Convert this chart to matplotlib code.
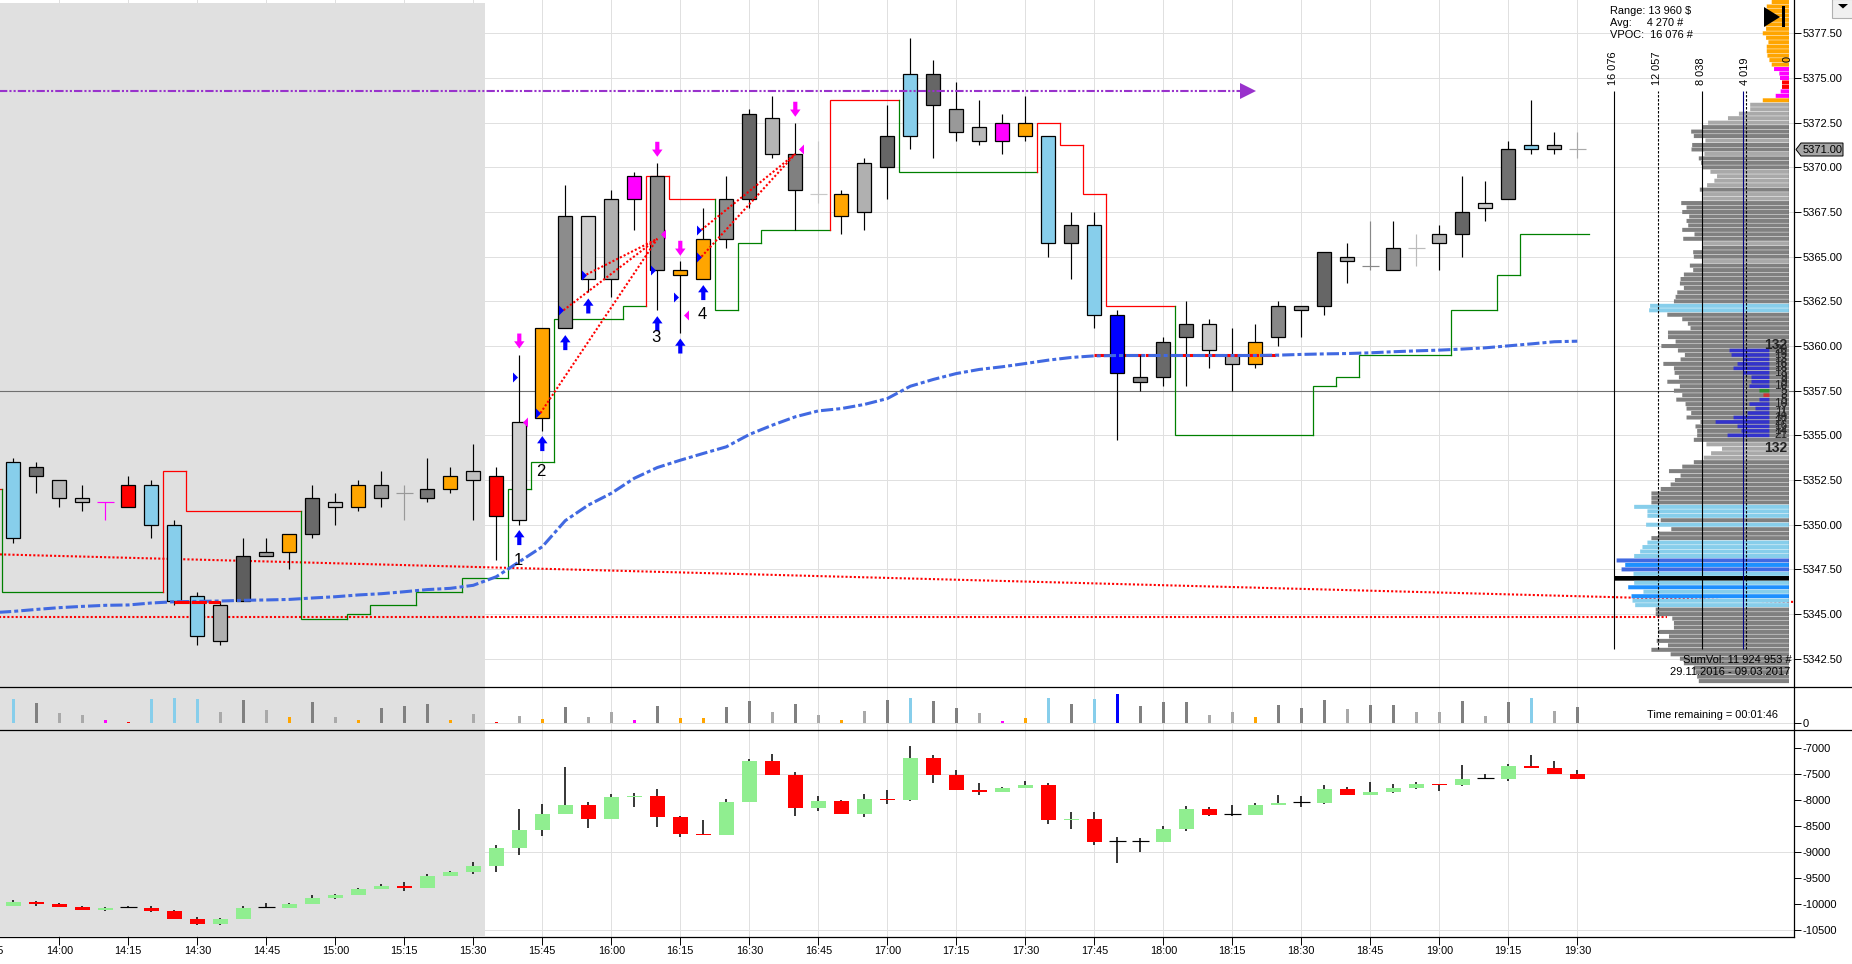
import numpy as np
import matplotlib
matplotlib.use("Agg")
import matplotlib.pyplot as plt
from matplotlib.patches import Polygon, Rectangle

plt.rcParams['font.family'] = ['Liberation Sans', 'DejaVu Sans']
plt.rcParams['axes.unicode_minus'] = False

# 5 minute bars, 13:50 to 19:30, minutes counted from 14:00
minutes = np.arange(69) * 5 - 10
tick_minutes = np.arange(-15, 331, 15)
tick_labels = ["13:45", "14:00", "14:15", "14:30", "14:45", "15:00", "15:15", "15:30", "15:45",
               "16:00", "16:15", "16:30", "16:45", "17:00", "17:15", "17:30", "17:45", "18:00",
               "18:15", "18:30", "18:45", "19:00", "19:15", "19:30"]

body_top = [5353.5, 5353.25, 5352.5, 5351.5, 5351.25, 5352.25, 5352.25, 5350.0, 5346.0, 5345.5, 5348.25, 5348.5,
            5349.5, 5351.5, 5351.25, 5352.25, 5352.25, 5351.75, 5352.0, 5352.75, 5353.0, 5352.75, 5355.75, 5361.0,
            5367.25, 5367.25, 5368.25, 5369.5, 5369.5, 5364.25, 5366.0, 5368.25, 5373.0, 5372.75, 5370.75, 5368.5,
            5368.5, 5370.25, 5371.75, 5375.25, 5375.25, 5373.25, 5372.25, 5372.5, 5372.5, 5371.75, 5366.75, 5366.75,
            5361.75, 5358.25, 5360.25, 5361.25, 5361.25, 5359.5, 5360.25, 5362.25, 5362.25, 5365.25, 5365.0, 5364.5,
            5365.5, 5365.5, 5366.25, 5367.5, 5368.0, 5371.0, 5371.25, 5371.25, 5371.0]
body_bot = [5349.25, 5352.75, 5351.5, 5351.25, 5351.25, 5351.0, 5350.0, 5345.75, 5343.75, 5343.5, 5345.75, 5348.25,
            5348.5, 5349.5, 5351.0, 5351.0, 5351.5, 5351.75, 5351.5, 5352.0, 5352.5, 5350.5, 5350.25, 5356.0,
            5361.0, 5363.75, 5363.75, 5368.25, 5364.25, 5364.0, 5363.75, 5366.0, 5368.25, 5370.75, 5368.75, 5368.5,
            5367.25, 5367.5, 5370.0, 5371.75, 5373.5, 5372.0, 5371.5, 5371.5, 5371.75, 5365.75, 5365.75, 5361.75,
            5358.5, 5358.0, 5358.25, 5360.5, 5359.75, 5359.0, 5359.0, 5360.5, 5362.0, 5362.25, 5364.75, 5364.5,
            5364.25, 5365.5, 5365.75, 5366.25, 5367.75, 5368.25, 5371.0, 5371.0, 5371.0]
high = [5353.75, 5353.5, 5352.5, 5352.25, 5351.25, 5352.75, 5352.5, 5350.25, 5346.25, 5345.75, 5349.25, 5349.25,
        5349.5, 5352.25, 5351.75, 5352.5, 5353.0, 5352.25, 5353.75, 5353.25, 5354.5, 5353.25, 5359.5, 5361.0,
        5369.0, 5367.25, 5368.75, 5369.75, 5370.25, 5364.75, 5367.75, 5369.5, 5373.25, 5374.0, 5372.5, 5371.5,
        5368.75, 5370.5, 5373.5, 5377.25, 5376.0, 5374.75, 5373.75, 5373.0, 5374.0, 5371.75, 5367.5, 5367.5,
        5362.0, 5359.5, 5360.5, 5362.5, 5361.5, 5361.0, 5361.25, 5362.5, 5362.25, 5365.25, 5365.75, 5367.0,
        5367.0, 5366.25, 5366.75, 5369.5, 5369.25, 5371.5, 5373.75, 5372.0, 5372.0]
low = [5349.0, 5351.75, 5351.0, 5350.75, 5350.25, 5351.0, 5349.25, 5345.5, 5343.25, 5343.25, 5345.75, 5348.25,
       5347.5, 5349.25, 5350.0, 5350.75, 5351.0, 5350.25, 5351.25, 5351.75, 5350.25, 5348.0, 5350.0, 5355.25,
       5361.0, 5363.0, 5362.75, 5366.5, 5362.0, 5360.75, 5363.75, 5365.5, 5367.75, 5370.5, 5366.5, 5368.0,
       5366.25, 5366.5, 5368.25, 5371.0, 5370.5, 5371.5, 5371.25, 5370.75, 5371.5, 5365.0, 5363.75, 5361.0,
       5354.75, 5357.5, 5357.75, 5357.75, 5358.75, 5357.5, 5358.75, 5360.0, 5360.5, 5361.75, 5363.5, 5364.25,
       5364.25, 5364.5, 5364.25, 5365.0, 5367.0, 5368.25, 5370.75, 5370.75, 5370.5]

vwap_minutes = [-15] + list(minutes)
vwap = [5345.07, 5345.15, 5345.26, 5345.36, 5345.43, 5345.49, 5345.51, 5345.62, 5345.69, 5345.71, 5345.73, 5345.77,
        5345.79, 5345.82, 5345.9, 5345.97, 5346.07, 5346.14, 5346.25, 5346.37, 5346.44, 5346.61, 5347.09, 5347.93,
        5348.77, 5350.23, 5351.1, 5351.76, 5352.6, 5353.2, 5353.61, 5353.99, 5354.36, 5355.05, 5355.57, 5356.04,
        5356.37, 5356.5, 5356.73, 5357.06, 5357.75, 5358.13, 5358.46, 5358.69, 5358.84, 5359.02, 5359.21, 5359.36,
        5359.45, 5359.47, 5359.47, 5359.47, 5359.47, 5359.47, 5359.47, 5359.47, 5359.49, 5359.53, 5359.56, 5359.58,
        5359.62, 5359.68, 5359.73, 5359.77, 5359.83, 5359.9, 5360.01, 5360.12, 5360.24, 5360.27]

# trailing stop: level, number of bars it holds, colour
stop_start = 5352.0
stop_levels = [5346.25, 5353.0, 5350.75, 5344.75, 5345.0, 5345.5, 5346.25, 5347.0, 5352.0, 5353.5, 5361.5, 5362.25,
               5369.5, 5368.25, 5362.0, 5365.75, 5366.5, 5373.75, 5369.75, 5372.5, 5371.25, 5368.5, 5362.25, 5355.0,
               5357.75, 5358.25, 5359.5, 5362.0, 5364.0, 5366.25]
stop_bars = [7, 1, 5, 2, 1, 2, 2, 2, 1, 1, 3, 1, 1, 2, 1, 1, 3, 3, 6, 1, 1, 1, 3, 6, 1, 1, 4, 2, 1, 3]
stop_sides = "grrgggggggggrrgggrgrrrrggggggg"

# cumulative delta candles
d_open = [-10032, -9955, -9994, -10051, -10109, -10058, -10070, -10128, -10282, -10378, -10282, -10058, -10070,
          -9994, -9878, -9821, -9705, -9647, -9686, -9455, -9378, -9263, -8917, -8571, -8263, -8090, -8359, -7936,
          -7917, -8321, -8647, -8667, -8032, -7244, -7513, -8147, -8013, -8263, -7974, -7994, -7186, -7513, -7801,
          -7840, -7763, -7705, -8378, -8359, -8788, -8788, -8801, -8551, -8167, -8269, -8282, -8090, -8038, -8051,
          -7782, -7897, -7840, -7763, -7686, -7705, -7577, -7590, -7340, -7378, -7494]
d_close = [-9955, -9994, -10051, -10109, -10070, -10058, -10128, -10282, -10378, -10282, -10070, -10058, -9994,
           -9878, -9821, -9705, -9647, -9686, -9455, -9378, -9263, -8917, -8571, -8263, -8090, -8359, -7936, -7917,
           -8321, -8647, -8667, -8032, -7244, -7513, -8147, -8013, -8263, -7974, -7994, -7186, -7513, -7801, -7840,
           -7763, -7705, -8378, -8359, -8801, -8788, -8788, -8551, -8167, -8282, -8269, -8090, -8051, -8038, -7782,
           -7897, -7840, -7763, -7686, -7705, -7590, -7577, -7340, -7378, -7494, -7590]
d_high = [-9917, -9929, -9974, -10032, -10051, -10038, -10032, -10109, -10244, -10263, -10032, -9974, -9974, -9821,
          -9801, -9686, -9609, -9570, -9417, -9359, -9186, -8859, -8167, -8070, -7359, -8032, -7878, -7859, -7782,
          -8301, -8378, -7974, -7205, -7109, -7455, -7917, -7994, -7878, -7801, -6955, -7128, -7417, -7667, -7744,
          -7628, -7667, -8224, -8224, -8705, -8724, -8494, -8109, -8128, -8090, -8051, -7897, -7917, -7705, -7744,
          -7647, -7686, -7647, -7686, -7321, -7494, -7301, -7128, -7244, -7417]
d_low = [-10032, -10032, -10051, -10109, -10128, -10070, -10147, -10282, -10397, -10397, -10282, -10070, -10070,
         -9994, -9897, -9821, -9705, -9744, -9686, -9455, -9417, -9378, -9051, -8686, -8263, -8532, -8359, -8128,
         -8513, -8705, -8667, -8667, -8032, -7513, -8301, -8205, -8263, -8321, -8070, -8013, -7667, -7801, -7897,
         -7840, -7763, -8455, -8551, -8859, -9205, -8994, -8801, -8590, -8301, -8301, -8282, -8090, -8128, -8070,
         -7897, -7897, -7859, -7782, -7821, -7724, -7577, -7628, -7378, -7494, -7590]

volume = [72, 60, 30, 24, 9, 3, 72, 75, 72, 33, 69, 39, 18, 63, 18, 9, 45, 51, 57, 9, 27, 3, 21, 12, 48, 18, 33,
          9, 51, 15, 15, 48, 66, 33, 57, 24, 9, 36, 69, 75, 66, 45, 30, 6, 15, 75, 57, 72, 87, 51, 63, 63, 24, 33,
          18, 54, 45, 69, 42, 54, 54, 33, 33, 66, 21, 63, 75, 36, 48]

# volume profile rows, from 5379.25 down in 0.25 steps
profile_top = 5379.25
profile_vol = [1614, 2071, 2071, 2314, 2314, 2223, 2132, 2436, 2132, 1918, 2071, 2071, 2010, 1827, 1614, 1401, 914,
               853, 670, 670, 792, 1248, 2436, 3593, 3593, 4628, 5633, 7460, 8008, 9013, 8770, 7704, 8922, 8983,
               7795, 8313, 8100, 8008, 7247, 6638, 6882, 7552, 8222, 7917, 7917, 9927, 9440, 9835, 9196, 9440, 9287,
               9835, 8709, 9744, 7917, 7947, 8831, 8770, 7917, 9135, 8831, 9683, 9988, 10049, 9683, 10292, 10444,
               10597, 12789, 12880, 11206, 9835, 9318, 9074, 11145, 11145, 10444, 11754, 10231, 9592, 9988, 11571,
               10597, 10536, 10140, 11206, 10049, 10597, 9835, 10383, 9531, 9440, 9013, 9440, 8161, 8617, 8465, 8465,
               8770, 7613, 6181, 7186, 7856, 8770, 9835, 11053, 9988, 10505, 10901, 11815, 12667, 12667, 12667, 14251,
               13033, 13033, 11815, 13154, 10840, 12058, 12667, 13033, 13489, 13703, 14251, 15864, 15073, 15408, 14312,
               16076, 14251, 14799, 13398, 14494, 14403, 14159, 12271, 12271, 10749, 10597, 10597, 12058, 11053, 12180,
               11145, 12667, 10901, 10049, 9683, 8770, 8617, 8465, 8313]
profile_kinds = ("OOOOOOOOOOOOOOOMMMRRMMOLLLLLDDDLDDLDDDLLLLDLLDDDDDDDDDLDDDLDDDDDDDDDSS"
                 "DDDDDDDDDDDDDDDDDDDDDDDDDDDDDLLLLDDDDDDDDDDSSSDSDDDSSSSYAYSKSASASSDDDDDDDDDDDDDDDDD")
avg_vol = 4270

# selection profile inside the big one
inner_prices = [5359.75, 5359.5, 5359.25, 5359.0, 5358.75, 5358.5, 5358.25, 5358.0, 5357.75, 5357.5, 5357.25, 5357.0,
                5356.75, 5356.5, 5356.25, 5356.0, 5355.75, 5355.5, 5355.25, 5355.0]
inner_counts = [20, 19, 13, 16, 18, 13, 9, 9, 10, 5, 3, 5, 10, 7, 11, 18, 27, 16, 14, 21]

# signals
buy_minutes = [100, 105, 110, 115, 130, 135, 140]
buy_tips = [5349.7, 5354.96, 5360.61, 5362.66, 5361.67, 5360.42, 5363.41]
sell_minutes = [100, 130, 135, 160]
sell_tips = [5359.86, 5370.59, 5365.05, 5372.83]
blue_tri_minutes = [100, 105, 110, 115, 130, 135, 140, 140]
blue_tri_prices = [5358.25, 5356.25, 5362.0, 5364.0, 5364.25, 5362.75, 5366.5, 5365.0]
pink_tri_minutes = [100, 130, 135, 160]
pink_tri_prices = [5355.75, 5366.25, 5361.75, 5371.0]
wave_minutes = [100, 105, 130, 140]
wave_prices = [5348.0, 5353.0, 5360.5, 5361.75]
wave_labels = ["1", "2", "3", "4"]
link_start = [(105, 5356.25), (110, 5362.0), (115, 5364.0), (140, 5365.0), (140, 5366.5)]
link_end = [(130, 5366.0), (130, 5366.0), (130, 5366.0), (160, 5370.75), (160, 5370.75)]

price_ticks = np.arange(5342.5, 5378, 2.5)
delta_ticks = np.arange(-10500, -6999, 500)
delta_grid = [-7500, -9000, -10500]

# styles
kind_colors = {"O": "#ffa500", "M": "#ff00ff", "R": "#ff0000", "S": "#87ceeb", "D": "#808080", "L": "#a9a9a9",
               "B": "#0000ff", "A": "#1e90ff", "Y": "#4169e1", "K": "#000000"}
candle_colors = ["#87ceeb", "#707070", "#b8b8b8", "#c0c0c0", "#ff00ff", "#ff0000", "#87ceeb", "#87ceeb", "#87ceeb",
                 "#b0b0b0", "#5e5e5e", "#a0a0a0", "#ffa500", "#6a6a6a", "#d0d0d0", "#ffa500", "#9a9a9a", "#999999",
                 "#777777", "#ffa500", "#c0c0c0", "#ff0000", "#d0d0d0", "#ffa500", "#8c8c8c", "#d0d0d0", "#b0b0b0",
                 "#ff00ff", "#8c8c8c", "#ffa500", "#ffa500", "#8c8c8c", "#666666", "#b4b4b4", "#808080", "#c8c8c8",
                 "#ffa500", "#b0b0b0", "#666666", "#87ceeb", "#666666", "#999999", "#b8b8b8", "#ff00ff", "#ffa500",
                 "#87ceeb", "#808080", "#87ceeb", "#0000ff", "#888888", "#6a6a6a", "#707070", "#c8c8c8", "#aaaaaa",
                 "#ffa500", "#888888", "#999999", "#666666", "#aaaaaa", "#888888", "#888888", "#bbbbbb", "#b0b0b0",
                 "#666666", "#cccccc", "#707070", "#87ceeb", "#aaaaaa", "#aaaaaa"]
vol_kinds = "SDLLMRSSSLDLODLODDDOLRLODLLMDOODDLDLOLDSDDLMOSDSBDDDLLODDDLDDLLDLDSLD"
GRID = "#e0e0e0"
VWAP_DASH = (0, (4, 1, 1.3, 1))
RED_DASH = (0, (5, 0.6))

W, H = 1852, 964
X_LEFT, X_RIGHT = -20, 1794
PX_PER_MIN = 4.6
X_ZERO = 59.3
x_lim = ((X_LEFT - X_ZERO) / PX_PER_MIN, (X_RIGHT - X_ZERO) / PX_PER_MIN)
shade_end = (484.8 - X_ZERO) / PX_PER_MIN


def axes_px(fig, x0, y0, x1, y1):
    return fig.add_axes([x0 / W, 1 - y1 / H, (x1 - x0) / W, (y1 - y0) / H])


def price_at(y):
    return 5377.5 - (y - 33.3) / 17.87


fig = plt.figure(figsize=(W / 100, H / 100), dpi=100, facecolor="white")
ax = axes_px(fig, X_LEFT, 0, X_RIGHT, 687)
ax_vol = axes_px(fig, X_LEFT, 687, X_RIGHT, 730)
ax_delta = axes_px(fig, X_LEFT, 730, X_RIGHT, 937)

for a in (ax, ax_vol, ax_delta):
    a.set_xlim(x_lim)
    a.set_axisbelow(True)
    a.set_xticks(tick_minutes)
    a.grid(axis="x", color=GRID, lw=0.72)
    a.yaxis.tick_right()
    a.tick_params(axis="y", length=5, width=0.7, pad=1, labelsize=8)
    for s in a.spines.values():
        s.set_visible(False)

# main panel
ax.set_ylim(price_at(687), price_at(0))
ax.set_yticks(price_ticks)
ax.set_yticklabels(["%.2f" % p for p in price_ticks])
ax.grid(axis="y", color=GRID, lw=0.72)
ax.tick_params(axis="x", length=0, labelbottom=False)
ax.axvspan(x_lim[0], shade_end, ymin=0, ymax=1 - 3 / 687, color="#e0e0e0", lw=0, zorder=0.6)

ax.axhline(price_at(391), color="#707070", lw=0.8, zorder=1)

# sloped and flat support lines
ax.plot([-12.9, 377.1], [5348.34, 5345.68], color="red", lw=1.5, ls=(0, (1, 1)), zorder=1.2)
ax.plot([x_lim[0], 349.5], [5344.85, 5344.85], color="red", lw=1.5, ls=(0, (1, 1)), zorder=1.2)

# trailing stop
pos = minutes[0] - 2.5
prev = stop_start
ax.plot([pos - 2, pos], [prev, prev], color="red", lw=0.9, zorder=1.5)
for level, n, side in zip(stop_levels, stop_bars, stop_sides):
    c = "#ff0000" if side == "r" else "#008000"
    ax.plot([pos, pos, pos + n * 5], [prev, level, level], color=c, lw=0.9, zorder=1.5,
            solid_joinstyle="miter")
    pos += n * 5
    prev = level

# red part under the candles
ax.plot([225, 250], [5359.47, 5359.47], color="red", lw=2.2, ls=RED_DASH, zorder=1.8)

# candles
top = np.array(body_top)
bot = np.array(body_bot)
is_doji = top == bot
wick_colors = [c if d else "black" for c, d in zip(candle_colors, is_doji)]
ax.vlines(minutes, low, high, colors=wick_colors, lw=0.85, zorder=2)
solid = ~is_doji
ax.bar(minutes[solid], (top - bot)[solid], bottom=bot[solid], width=3.1,
       color=[c for c, s in zip(candle_colors, solid) if s], edgecolor="black", lw=0.9, zorder=3)
ax.hlines(top[is_doji], minutes[is_doji] - 1.8, minutes[is_doji] + 1.8,
          colors=[c for c, d in zip(candle_colors, is_doji) if d], lw=0.85, zorder=3)

# vwap with its red stretches
ax.plot([250, 265], [5359.47, 5359.47], color="red", lw=2.2, ls=RED_DASH, zorder=3.5)
ax.plot([25, 35], [5345.7, 5345.7], color="red", lw=2.2, ls=RED_DASH, zorder=4.2)
ax.plot(vwap_minutes, vwap, color="#4169e1", lw=2.2, ls=VWAP_DASH, zorder=4)

# long target line
ax.plot([x_lim[0], 257.8], [5374.29, 5374.29], color="#9932cc", lw=1.5, ls=(0, (4, 1, 1, 1, 1, 1)), zorder=4)
ax.plot([258.5], [5374.29], marker=">", ms=11, color="#9932cc", mew=0, ls="none", zorder=4)

# links between signals
for (x0, y0), (x1, y1) in zip(link_start, link_end):
    ax.plot([x0 - 0.4, x1], [y0, y1], color="red", lw=1.5, ls=(0, (1, 1)), zorder=5)

right_tri = [(-0.5, -1), (0.5, 0), (-0.5, 1)]
left_tri = [(0.5, -1), (-0.5, 0), (0.5, 1)]
ax.plot(np.array(blue_tri_minutes) - 1.0, blue_tri_prices, ls="none", marker=right_tri, ms=7.2, color="#0000ff",
        mew=0, zorder=6)
ax.plot(np.array(pink_tri_minutes) + 1.3, pink_tri_prices, ls="none", marker=left_tri, ms=7.2, color="#ff00ff",
        mew=0, zorder=6)

arrow_style = dict(edgecolor="none", width=3, headwidth=7.5, headlength=5.2, shrink=0)
for m, p in zip(buy_minutes, buy_tips):
    ax.annotate("", xy=(m, p), xytext=(0, -10.8), textcoords="offset points",
                arrowprops=dict(facecolor="#0000ff", **arrow_style), zorder=6)
for m, p in zip(sell_minutes, sell_tips):
    ax.annotate("", xy=(m, p), xytext=(0, 10.8), textcoords="offset points",
                arrowprops=dict(facecolor="#ff00ff", **arrow_style), zorder=6)
for m, p, t in zip(wave_minutes, wave_prices, wave_labels):
    ax.text(m - 0.3, p, t, fontsize=12, ha="center", va="center", color="black", zorder=6)

# volume panel
ax_vol.set_ylim(-21, 108)
ax_vol.set_yticks([0])
ax_vol.set_yticklabels(["0"])
ax_vol.axhline(0, color=GRID, lw=0.72, zorder=0.5)
ax_vol.tick_params(axis="x", length=0, labelbottom=False)
ax_vol.axvspan(x_lim[0], shade_end, color="#e0e0e0", lw=0, zorder=0.6)
ax_vol.bar(minutes, volume, width=0.68, color=[kind_colors[k] for k in vol_kinds], lw=0, zorder=2)

# delta panel
d_o = np.array(d_open)
d_c = np.array(d_close)
ax_delta.set_ylim(-10628, -6654)
ax_delta.set_yticks(delta_ticks)
ax_delta.set_yticklabels(["%d" % v for v in delta_ticks])
for v in delta_grid:
    ax_delta.axhline(v, color=GRID, lw=0.72, zorder=0.5)
ax_delta.axvspan(x_lim[0], shade_end, ymin=1 / 207, color="#e0e0e0", lw=0, zorder=0.6)
ax_delta.vlines(minutes, d_low, d_high, colors="black", lw=1.1, zorder=2)
up = d_c > d_o
down = d_c < d_o
flat = d_c == d_o
ax_delta.bar(minutes[up], (d_c - d_o)[up], bottom=d_o[up], width=3.26, color="#90ee90", lw=0, zorder=3)
ax_delta.bar(minutes[down], (d_o - d_c)[down], bottom=d_c[down], width=3.26, color="#ff0000", lw=0, zorder=3)
ax_delta.hlines(d_c[flat], minutes[flat] - 1.85, minutes[flat] + 1.85, colors="black", lw=0.85, zorder=3)
ax_delta.set_xticklabels(tick_labels)
ax_delta.tick_params(axis="x", length=5.8, width=0.7, labelsize=7.8, pad=0.5)

# volume profile, sits on top of the main panel
prof = axes_px(fig, 1600, 0, 1789.3, 687)
prof.set_zorder(3)
prof.patch.set_alpha(0)
prof.set_xlim(16076 * 189.3 / 175, 0)
prof.set_ylim(ax.get_ylim())
prof.axis("off")
rows = profile_top - 0.25 * np.arange(len(profile_vol))
heights = [0.26 if k == "K" else 0.225 for k in profile_kinds]
row_bars = prof.barh(rows, profile_vol, height=heights, color=[kind_colors[k] for k in profile_kinds],
                     lw=0, zorder=2)
for b in row_bars:
    b.set_snap(False)

inner_right = 1827
vol_per_count = 183
inner_cols = ["#3333cc"] * len(inner_counts)
inner_cols[9] = "#2e8b2e"
inner_cols[10] = "#cc3333"
inner_bars = prof.barh(inner_prices, np.array(inner_counts) * vol_per_count, left=inner_right, height=0.2,
                       color=inner_cols, lw=0, zorder=3)
for b in inner_bars:
    b.set_snap(False)
for p, c in zip(inner_prices, inner_counts):
    prof.text(180, p, str(c), fontsize=8.5, color="#222222", ha="right", va="center", zorder=5)
for p in (5360.05, 5354.3):
    prof.text(180, p, "132", fontsize=10, fontweight="bold", color="#222222", ha="right", va="center", zorder=5)

line_top = price_at(90.7)
line_bot = price_at(648.7)
prof.vlines([0, 8038, 16076], line_bot, line_top, colors="black", lw=0.8, zorder=4)
prof.vlines([4019, 12057], line_bot, line_top, colors="black", lw=0.8, linestyles=(0, (2.2, 1.4)), zorder=4)
prof.vlines([avg_vol], line_bot, line_top, colors="#000080", lw=0.8, zorder=4)

# everything that lives in screen pixels: frame, tag, button and captions
over = fig.add_axes([0, 0, 1, 1], zorder=5)
over.patch.set_alpha(0)
over.set_xlim(0, W)
over.set_ylim(H, 0)
over.axis("off")
over.plot([0, W], [687.3, 687.3], color="black", lw=0.9)
over.plot([0, W], [730.3, 730.3], color="black", lw=0.9)
over.plot([0, 1794], [937, 937], color="black", lw=0.9)
over.plot([1794, 1794], [0, 937], color="black", lw=0.9)

over.add_patch(Polygon([(1796, 149.5), (1801, 143), (1843, 143), (1843, 156), (1801, 156)],
                       fc="#a6a6a6", ec="black", lw=0.7))
over.text(1803, 149.8, "5371.00", fontsize=8, va="center", ha="left")

# go-to-end icon and scroll button
over.add_patch(Polygon([(1764, 7), (1780, 17), (1764, 27)], fc="black", ec="none"))
over.add_patch(Rectangle((1781.5, 6), 3.5, 21, fc="black", ec="none"))
over.add_patch(Rectangle((1832, -1), 21, 19, fc="#f0f0f0", ec="#b0b0b0", lw=0.8))
over.add_patch(Polygon([(1838, 4), (1848, 4), (1843, 8.5)], fc="black", ec="none"))

for y, t in zip((11, 23, 35), ("Range: 13 960 $", "Avg:     4 270 #", "VPOC:  16 076 #")):
    over.text(1610, y, t, fontsize=7.9, va="center", ha="left")
for x, t in zip((1613, 1657, 1701, 1745), ("16 076", "12 057", "8 038", "4 019")):
    over.text(x, 85, t, fontsize=7.9, rotation=90, va="bottom", ha="center")
over.text(1788, 59, "0", fontsize=7.9, rotation=90, va="center", ha="center")
over.text(1791.5, 660, "SumVol: 11 924 953 #", fontsize=8, va="center", ha="right")
over.text(1790.7, 671.8, "29.11.2016 - 09.03.2017", fontsize=8, va="center", ha="right")
over.text(1777.7, 715, "Time remaining = 00:01:46", fontsize=7.9, va="center", ha="right")

fig.savefig("out.png", dpi=100)
